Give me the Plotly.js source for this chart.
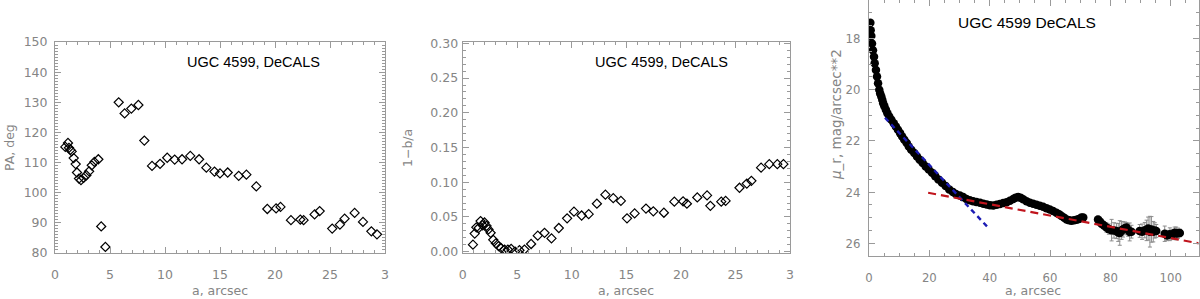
<!DOCTYPE html>
<html>
<head>
<meta charset="utf-8">
<script src="https://cdn.plot.ly/plotly-3.0.1.min.js"></script>
<style>
  html, body { margin: 0; padding: 0; background: #fff; }
  #chart { width: 1200px; height: 299px; }
</style>
</head>
<body>
<div id="chart"></div>
<script>
// position angle profile
const paA = [0.94, 1.18, 1.27, 1.40, 1.52, 1.70, 1.88, 2.00, 2.18, 2.36, 2.60, 2.85, 3.10, 3.34, 3.58, 3.94,
  4.20, 4.58, 5.79, 6.33, 6.94, 7.58, 8.12, 8.82, 9.55, 10.2, 10.88, 11.55, 12.3, 13.1, 13.76, 14.5, 15.0,
  15.7, 16.7, 17.4, 18.3, 19.3, 20.1, 20.5, 21.45, 22.3, 22.6, 23.6, 24.06, 25.2, 25.9, 26.33, 27.24, 28.0,
  28.76, 29.27];
const paV = [115.2, 116.5, 114.9, 114.2, 113.7, 111.5, 109.5, 106.7, 104.7, 104.2, 104.9, 105.8, 107.1, 109.1,
  110.2, 111.1, 88.8, 82.0, 130.0, 126.3, 127.9, 129.1, 117.3, 108.9, 109.6, 111.6, 111.0, 111.1, 112.2,
  111.1, 108.3, 107.0, 106.4, 106.7, 105.6, 106.0, 102.1, 94.6, 94.8, 95.3, 90.9, 91.1, 90.9, 92.8, 93.9,
  88.1, 89.4, 91.4, 93.3, 90.3, 87.2, 86.2];

// ellipticity profile
const ellA = [0.94, 1.1, 1.25, 1.46, 1.64, 1.83, 2.0, 2.19, 2.37, 2.56, 2.8, 3.04, 3.29, 3.53, 3.84, 4.14,
  4.44, 4.8, 5.2, 5.66, 6.27, 6.88, 7.5, 8.14, 8.81, 9.57, 10.2, 10.9, 11.55, 12.3, 13.08, 13.8, 14.5,
  15.06, 15.76, 16.8, 17.47, 18.44, 19.4, 20.2, 20.55, 21.5, 22.4, 22.7, 23.7, 24.1, 25.37, 26.04, 26.46,
  27.35, 28.1, 28.84, 29.4];
const ellV = [0.010, 0.026, 0.035, 0.034, 0.044, 0.038, 0.042, 0.037, 0.032, 0.027, 0.017, 0.012, 0.008,
  0.005, 0.003, 0.003, 0.004, 0.000, 0.002, 0.003, 0.011, 0.023, 0.027, 0.019, 0.034, 0.048, 0.0575,
  0.052, 0.054, 0.069, 0.082, 0.077, 0.073, 0.048, 0.055, 0.062, 0.058, 0.056, 0.072, 0.0725, 0.069,
  0.078, 0.081, 0.066, 0.072, 0.073, 0.092, 0.098, 0.102, 0.121, 0.126, 0.126, 0.126];

// surface brightness profile
const sbA = [0.44, 0.55, 0.77, 1.0, 1.32, 1.66, 1.88, 2.3, 2.65, 3.0, 3.4, 3.7, 4.07, 4.4, 4.7, 5.1, 5.6,
  6.1, 6.7, 7.4, 8.2, 8.9, 9.6, 10.3, 11.0, 11.7, 12.5, 13.2, 14.0, 15.0, 15.9, 16.8, 17.8, 18.8, 19.8,
  20.9, 21.95, 23.0, 24.2, 25.4, 26.6, 27.8, 28.8, 30.1, 31.2, 32.3, 33.4, 34.5, 35.6, 36.8, 37.9, 39.0,
  40.1, 41.2, 42.3, 43.4, 44.5, 45.6, 46.7, 47.8, 48.6, 49.4, 50.2, 51.1, 52.2, 53.3, 54.4, 55.5, 56.6,
  57.7, 58.8, 59.9, 61.0, 62.1, 63.0, 63.8, 64.7, 65.5, 66.3, 67.1, 68.0, 68.8, 69.6, 70.4, 71.0,
  75.9, 76.5, 77.0, 77.8, 78.7, 79.5, 80.4, 81.2, 82.0, 82.6, 83.1, 83.7, 84.2, 84.8, 85.3, 85.9, 86.4, 87.0,
  89.7, 90.5, 91.4, 92.0, 92.5, 93.1, 93.6, 94.2, 94.7, 95.2,
  98.0, 98.8, 99.7, 100.5, 101.3, 101.8, 102.4, 103.0];
const sbV = [17.39, 17.68, 17.91, 18.2, 18.46, 18.72, 18.97, 19.23, 19.49, 19.75, 20.01, 20.15, 20.27, 20.4,
  20.53, 20.65, 20.79, 20.92, 21.05, 21.18, 21.31, 21.44, 21.57, 21.7, 21.83, 21.96, 22.09, 22.22, 22.35,
  22.48, 22.61, 22.74, 22.87, 23.0, 23.12, 23.25, 23.38, 23.51, 23.64, 23.77, 23.9, 24.0, 24.08, 24.14,
  24.2, 24.27, 24.32, 24.36, 24.39, 24.42, 24.46, 24.49, 24.52, 24.53, 24.5, 24.47, 24.43, 24.4, 24.34,
  24.27, 24.22, 24.2, 24.22, 24.28, 24.36, 24.42, 24.46, 24.5, 24.54, 24.58, 24.63, 24.68, 24.74, 24.81,
  24.87, 24.94, 25.01, 25.07, 25.1, 25.12, 25.1, 25.08, 25.05, 25.0, 25.0,
  25.07, 25.15, 25.23, 25.3, 25.39, 25.45, 25.49, 25.5, 25.52, 25.58, 25.6, 25.5, 25.46, 25.42, 25.39, 25.48, 25.56, 25.55,
  25.52, 25.55, 25.49, 25.5, 25.43, 25.55, 25.46, 25.55, 25.5, 25.52,
  25.63, 25.7, 25.65, 25.66, 25.59, 25.62, 25.61, 25.6];
// error bars are only readable in the outer part (from a = 75.9 on)
const outerErr = [0.12, 0.12, 0.15, 0.15, 0.18, 0.2, 0.42, 0.3, 0.3, 0.35, 0.48, 0.35, 0.3, 0.25, 0.2, 0.25, 0.35, 0.25,
  0.25, 0.3, 0.3, 0.4, 0.45, 0.6, 0.5, 0.4, 0.3, 0.25,
  0.3, 0.2, 0.25, 0.2, 0.22, 0.25, 0.2, 0.15];
const errStart = sbA.indexOf(75.9);
const sbErr = sbA.map(() => 0);
outerErr.forEach(function (e, i) { sbErr[errStart + i] = e; });

// exponential fits
const innerFitA = [5.3, 39.7];
const innerFitV = [21.1, 25.42];
const outerFitA = [19.6, 110];
const outerFitV = [24.03, 26.02];

const W = 1200, H = 299;
const px = (x) => x / W;
const py = (y) => 1 - y / H;

const lineGray = '#9a9a9a';
const labelGray = '#858585';
const tickFont = { family: 'DejaVu Sans, sans-serif', size: 12.5, color: labelGray };
const tickFontR = { family: 'DejaVu Sans Condensed, DejaVu Sans, sans-serif', size: 13, color: labelGray };

function axis(opts) {
  return Object.assign({
    showgrid: false,
    zeroline: false,
    showline: true,
    linecolor: lineGray,
    linewidth: 1,
    mirror: 'ticks',
    ticks: 'inside',
    ticklen: 6,
    tickwidth: 1,
    tickcolor: lineGray,
    tickfont: tickFont,
  }, opts);
}

const openDiamond = {
  symbol: 'diamond-open',
  size: 7,
  color: 'black',
  line: { color: 'black', width: 1.2 },
};

const data = [
  {
    x: paA, y: paV, xaxis: 'x', yaxis: 'y',
    type: 'scatter', mode: 'markers', marker: openDiamond,
  },
  {
    x: ellA, y: ellV, xaxis: 'x2', yaxis: 'y2',
    type: 'scatter', mode: 'markers', marker: openDiamond,
  },
  {
    x: sbA, y: sbV, xaxis: 'x3', yaxis: 'y3',
    type: 'scatter', mode: 'markers',
    marker: { symbol: 'circle', size: 8.5, color: 'black' },
    error_y: { type: 'data', array: sbErr, color: '#8c8c8c', thickness: 1, width: 2 },
  },
  {
    x: innerFitA, y: innerFitV, xaxis: 'x3', yaxis: 'y3',
    type: 'scatter', mode: 'lines',
    line: { color: '#1c1cb4', width: 2.4, dash: '5px,4px' },
  },
  {
    x: outerFitA, y: outerFitV, xaxis: 'x3', yaxis: 'y3',
    type: 'scatter', mode: 'lines',
    line: { color: '#c0141c', width: 2.2, dash: '8px,5px' },
  },
];

const titleFont = { family: 'Liberation Sans, Arial, sans-serif', size: 14.5, color: 'black' };
const axTitleFont = { family: 'DejaVu Sans, sans-serif', size: 12.5, color: labelGray };

function note(text, x, y, font, angle) {
  return {
    text: text, xref: 'paper', yref: 'paper', x: px(x), y: py(y),
    xanchor: 'center', yanchor: 'middle', showarrow: false,
    textangle: angle || 0, font: font,
  };
}

const layout = {
  width: W,
  height: H,
  margin: { l: 0, r: 0, t: 0, b: 0 },
  paper_bgcolor: 'white',
  plot_bgcolor: 'white',
  showlegend: false,
  xaxis: axis({
    domain: [px(55), px(385)], anchor: 'y', range: [0, 30],
    tickvals: [0, 5, 10, 15, 20, 25, 30], ticktext: ['0', '5', '10', '15', '20', '25', '3'],
    minor: { dtick: 1, ticklen: 3, ticks: 'inside', tickcolor: lineGray },
    ticklabelstandoff: 10,
  }),
  yaxis: axis({
    domain: [py(253), py(42)], anchor: 'x', range: [80, 150], dtick: 10,
    minor: { dtick: 1, ticklen: 3, ticks: 'inside', tickcolor: lineGray },
    ticklabelstandoff: 4,
  }),
  xaxis2: axis({
    domain: [px(462.7), px(790)], anchor: 'y2', range: [0, 30],
    tickvals: [0, 5, 10, 15, 20, 25, 30], ticktext: ['0', '5', '10', '15', '20', '25', '3'],
    minor: { dtick: 1, ticklen: 3, ticks: 'inside', tickcolor: lineGray },
    ticklabelstandoff: 10,
  }),
  yaxis2: axis({
    domain: [py(253), py(42)], anchor: 'x2', range: [-0.002, 0.302], dtick: 0.05, tickformat: '.2f',
    minor: { dtick: 0.01, ticklen: 3, ticks: 'inside', tickcolor: lineGray },
    ticklabelstandoff: 1,
  }),
  xaxis3: axis({
    domain: [px(869), px(1198.5)], anchor: 'y3', range: [0, 109.2], dtick: 20,
    minor: { dtick: 5, ticklen: 3, ticks: 'inside', tickcolor: lineGray },
    tickfont: tickFontR,
    ticklabelstandoff: 9,
  }),
  yaxis3: axis({
    domain: [py(256), 1], anchor: 'x3', range: [26.5, 16.5], dtick: 2,
    minor: { dtick: 0.5, ticklen: 3, ticks: 'inside', tickcolor: lineGray },
    tickfont: tickFontR,
    ticklabelstandoff: 5,
  }),
  annotations: [
    note('UGC 4599, DeCALS', 253, 62, titleFont),
    note('UGC 4599, DeCALS', 661, 62, titleFont),
    note('UGC 4599 DeCALS', 1027, 23, Object.assign({}, titleFont, { size: 15.5 })),
    note('PA, deg', 9, 148, axTitleFont, -90),
    note('1−b/a', 407, 148, axTitleFont, -90),
    note('<i>μ</i>_r, mag/arcsec**2', 836, 115, Object.assign({}, axTitleFont, { size: 13.5 }), -90),
    note('a, arcsec', 220, 290, axTitleFont),
    note('a, arcsec', 626, 290, axTitleFont),
    note('a, arcsec', 1033, 290.5, axTitleFont),
  ],
};

Plotly.newPlot('chart', data, layout, { staticPlot: true, displayModeBar: false });
</script>
</body>
</html>
